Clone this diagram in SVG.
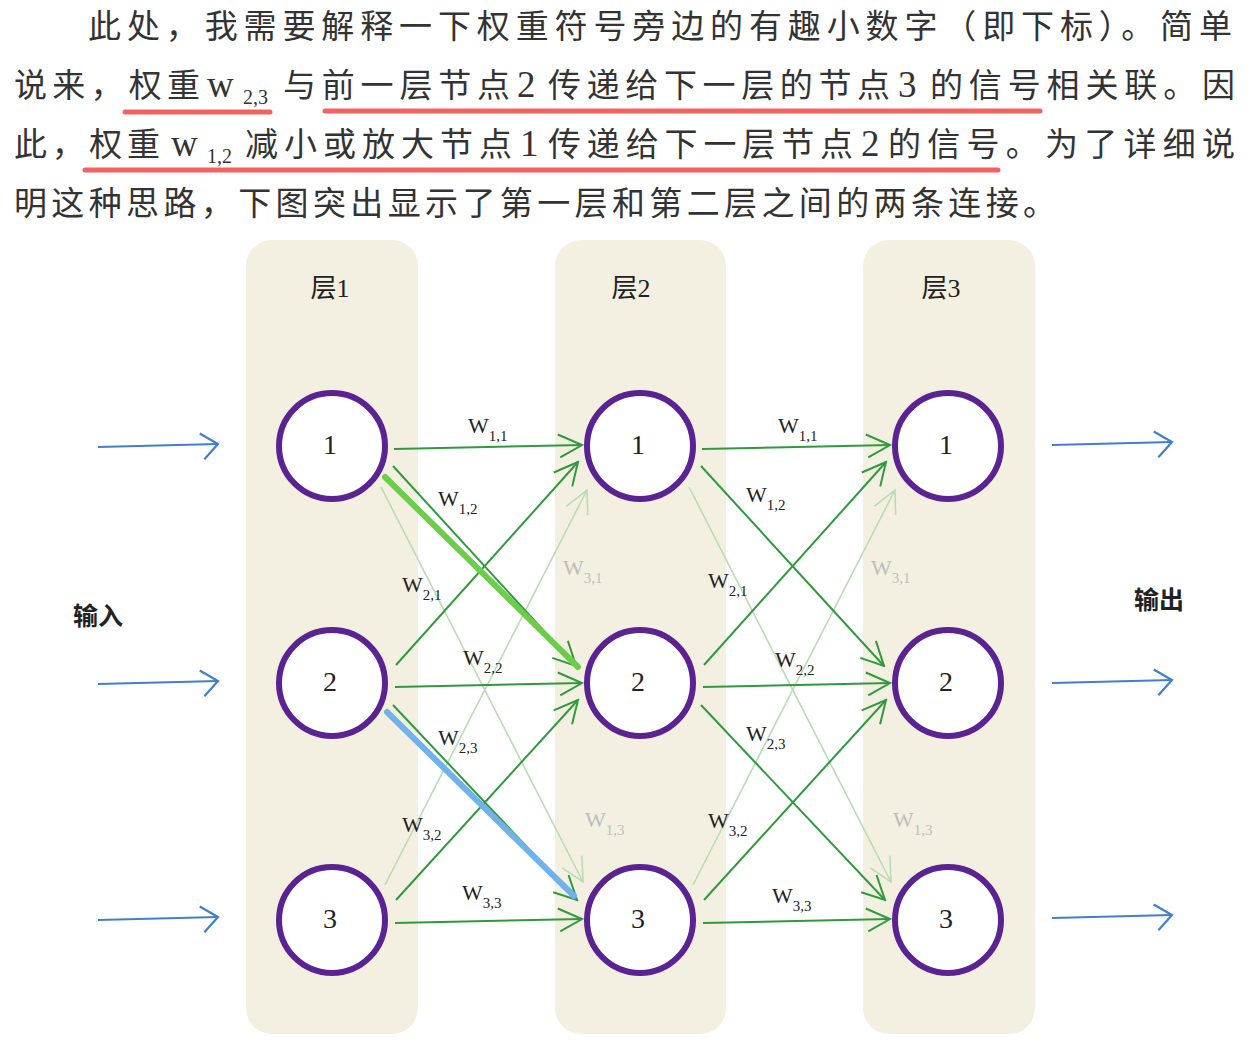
<svg xmlns="http://www.w3.org/2000/svg" width="1260" height="1043" viewBox="0 0 1260 1043">
<style>
.para{font-family:"Liberation Serif","Noto Sans CJK SC",serif;font-size:33px;fill:#333}
.sub{font-family:"Liberation Serif",serif;font-size:20px;fill:#333}
.lat{font-family:"Liberation Serif",serif;font-size:37px;fill:#333}
.ul{stroke:#f26262;stroke-width:5;stroke-linecap:round;fill:none}
.panel{fill:#f4f0e1}
.ptitle{font-family:"Liberation Serif","Noto Sans CJK SC",serif;font-size:26px;fill:#222;text-anchor:middle}
.node{fill:#fff;stroke:#5a2391;stroke-width:6}
.ntext{font-family:"Liberation Serif",serif;font-size:28px;fill:#222;text-anchor:middle;dominant-baseline:central}
.g{stroke:#2f9a3c;stroke-width:2;fill:none;marker-end:url(#ag)}
.gf{stroke:#b9dcb4;stroke-width:1.6;fill:none;marker-end:url(#agf)}
.b{stroke:#3f7fcc;stroke-width:2.2;fill:none;marker-end:url(#ab)}
.w{font-family:"Liberation Serif",serif;font-size:22px;fill:#222}
.wf{font-family:"Liberation Serif",serif;font-size:22px;fill:#bdbdbd}
.side{font-family:"Noto Sans CJK SC",sans-serif;font-size:25px;font-weight:bold;fill:#222;text-anchor:middle}
</style>
<defs>
<marker id="ag" viewBox="-26 -14 28 28" refX="0" refY="0" markerWidth="28" markerHeight="28" markerUnits="userSpaceOnUse" orient="auto">
<path d="M-24,-11 L0,0 L-22,12" stroke="#2f9a3c" stroke-width="2" fill="none"/>
</marker>
<marker id="agf" viewBox="-26 -14 28 28" refX="0" refY="0" markerWidth="28" markerHeight="28" markerUnits="userSpaceOnUse" orient="auto">
<path d="M-24,-11 L0,0 L-22,12" stroke="#b9dcb4" stroke-width="1.6" fill="none"/>
</marker>
<marker id="ab" viewBox="-26 -16 28 32" refX="0" refY="0" markerWidth="28" markerHeight="32" markerUnits="userSpaceOnUse" orient="auto">
<path d="M-18,-11 L0,0 L-14,15" stroke="#3f7fcc" stroke-width="2.2" fill="none"/>
</marker>
</defs>
<rect width="1260" height="1043" fill="#fff"/>

<g id="paragraph">
<text class="para" x="88" y="38" textLength="1144" lengthAdjust="spacing">此处，我需要解释一下权重符号旁边的有趣小数字（即下标）。简单</text>
<text class="para" x="14" y="97" textLength="186" lengthAdjust="spacing">说来，权重</text>
<text class="lat" x="207" y="97">w</text>
<text class="sub" x="243" y="104">2,3</text>
<text class="para" x="283" y="97" textLength="227" lengthAdjust="spacing">与前一层节点</text>
<text class="lat" x="517" y="97">2</text>
<text class="para" x="548" y="97" textLength="342" lengthAdjust="spacing">传递给下一层的节点</text>
<text class="lat" x="898" y="97">3</text>
<text class="para" x="930" y="97" textLength="305" lengthAdjust="spacing">的信号相关联。因</text>
<text class="para" x="14" y="156" textLength="146" lengthAdjust="spacing">此，权重</text>
<text class="lat" x="171" y="156">w</text>
<text class="sub" x="207" y="163">1,2</text>
<text class="para" x="245" y="156" textLength="267" lengthAdjust="spacing">减小或放大节点</text>
<text class="lat" x="520" y="156">1</text>
<text class="para" x="548" y="156" textLength="305" lengthAdjust="spacing">传递给下一层节点</text>
<text class="lat" x="861" y="156">2</text>
<text class="para" x="888" y="156" textLength="347" lengthAdjust="spacing">的信号。为了详细说</text>
<text class="para" x="14" y="215" textLength="1042" lengthAdjust="spacing">明这种思路，下图突出显示了第一层和第二层之间的两条连接。</text>
<line class="ul" x1="125" y1="112" x2="270" y2="112"/>
<line class="ul" x1="325" y1="111" x2="1040" y2="111"/>
<line class="ul" x1="85" y1="170" x2="998" y2="170"/>
</g>

<g id="layer1"><rect class="panel" x="246" y="240" width="172" height="794" rx="26"/><text class="ptitle" x="330" y="297">层1</text></g>
<g id="layer2"><rect class="panel" x="555" y="240" width="171" height="794" rx="26"/><text class="ptitle" x="631" y="297">层2</text></g>
<g id="layer3"><rect class="panel" x="863" y="240" width="172" height="794" rx="26"/><text class="ptitle" x="941" y="297">层3</text></g>

<g id="connectors">
<line class="gf" x1="381" y1="487" x2="583" y2="882"/>
<line class="gf" x1="385" y1="885" x2="587" y2="490"/>
<line class="gf" x1="689" y1="487" x2="891" y2="882"/>
<line class="gf" x1="693" y1="885" x2="895" y2="490"/>
<line class="g" x1="394" y1="449" x2="582" y2="445"/>
<line class="g" x1="393" y1="466" x2="576" y2="666"/>
<line class="g" x1="396" y1="665" x2="578" y2="462"/>
<line class="g" x1="395" y1="687" x2="582" y2="683"/>
<line class="g" x1="393" y1="705" x2="577" y2="900"/>
<line class="g" x1="396" y1="900" x2="578" y2="700"/>
<line class="g" x1="395" y1="923" x2="582" y2="919"/>
<line class="g" x1="702" y1="449" x2="890" y2="445"/>
<line class="g" x1="701" y1="466" x2="884" y2="666"/>
<line class="g" x1="704" y1="665" x2="886" y2="462"/>
<line class="g" x1="703" y1="687" x2="890" y2="683"/>
<line class="g" x1="701" y1="705" x2="885" y2="900"/>
<line class="g" x1="704" y1="900" x2="886" y2="700"/>
<line class="g" x1="703" y1="923" x2="890" y2="919"/>
<line x1="385" y1="477" x2="578" y2="667" stroke="#6ccc4c" stroke-width="6" stroke-linecap="round"/>
<line x1="387" y1="712" x2="574" y2="896" stroke="#70b2ea" stroke-width="6" stroke-linecap="round"/>
<line class="b" x1="98" y1="447" x2="218" y2="444"/>
<line class="b" x1="98" y1="684" x2="218" y2="681"/>
<line class="b" x1="98" y1="920" x2="218" y2="917"/>
<line class="b" x1="1052" y1="445" x2="1172" y2="442"/>
<line class="b" x1="1052" y1="683" x2="1172" y2="680"/>
<line class="b" x1="1052" y1="918" x2="1172" y2="915"/>
</g>

<g id="weight-labels">
<text class="w" x="468" y="433">W<tspan dy="8" font-size="15">1,1</tspan></text>
<text class="w" x="438" y="506">W<tspan dy="8" font-size="15">1,2</tspan></text>
<text class="w" x="402" y="592">W<tspan dy="8" font-size="15">2,1</tspan></text>
<text class="wf" x="563" y="575">W<tspan dy="8" font-size="15">3,1</tspan></text>
<text class="w" x="463" y="665">W<tspan dy="8" font-size="15">2,2</tspan></text>
<text class="w" x="438" y="745">W<tspan dy="8" font-size="15">2,3</tspan></text>
<text class="w" x="402" y="832">W<tspan dy="8" font-size="15">3,2</tspan></text>
<text class="wf" x="585" y="827">W<tspan dy="8" font-size="15">1,3</tspan></text>
<text class="w" x="462" y="900">W<tspan dy="8" font-size="15">3,3</tspan></text>
<text class="w" x="778" y="433">W<tspan dy="8" font-size="15">1,1</tspan></text>
<text class="w" x="746" y="502">W<tspan dy="8" font-size="15">1,2</tspan></text>
<text class="w" x="708" y="588">W<tspan dy="8" font-size="15">2,1</tspan></text>
<text class="wf" x="871" y="575">W<tspan dy="8" font-size="15">3,1</tspan></text>
<text class="w" x="775" y="667">W<tspan dy="8" font-size="15">2,2</tspan></text>
<text class="w" x="746" y="741">W<tspan dy="8" font-size="15">2,3</tspan></text>
<text class="w" x="708" y="828">W<tspan dy="8" font-size="15">3,2</tspan></text>
<text class="wf" x="893" y="827">W<tspan dy="8" font-size="15">1,3</tspan></text>
<text class="w" x="772" y="903">W<tspan dy="8" font-size="15">3,3</tspan></text>
</g>

<g id="n1-1"><circle class="node" cx="332" cy="446" r="53"/><text class="ntext" x="330" y="444">1</text></g>
<g id="n1-2"><circle class="node" cx="332" cy="683" r="53"/><text class="ntext" x="330" y="681">2</text></g>
<g id="n1-3"><circle class="node" cx="332" cy="920" r="53"/><text class="ntext" x="330" y="918">3</text></g>
<g id="n2-1"><circle class="node" cx="640" cy="446" r="53"/><text class="ntext" x="638" y="444">1</text></g>
<g id="n2-2"><circle class="node" cx="640" cy="683" r="53"/><text class="ntext" x="638" y="681">2</text></g>
<g id="n2-3"><circle class="node" cx="640" cy="920" r="53"/><text class="ntext" x="638" y="918">3</text></g>
<g id="n3-1"><circle class="node" cx="948" cy="446" r="53"/><text class="ntext" x="946" y="444">1</text></g>
<g id="n3-2"><circle class="node" cx="948" cy="683" r="53"/><text class="ntext" x="946" y="681">2</text></g>
<g id="n3-3"><circle class="node" cx="948" cy="920" r="53"/><text class="ntext" x="946" y="918">3</text></g>

<g id="io-labels">
<text class="side" x="98" y="625">输入</text>
<text class="side" x="1159" y="609">输出</text>
</g>
</svg>
